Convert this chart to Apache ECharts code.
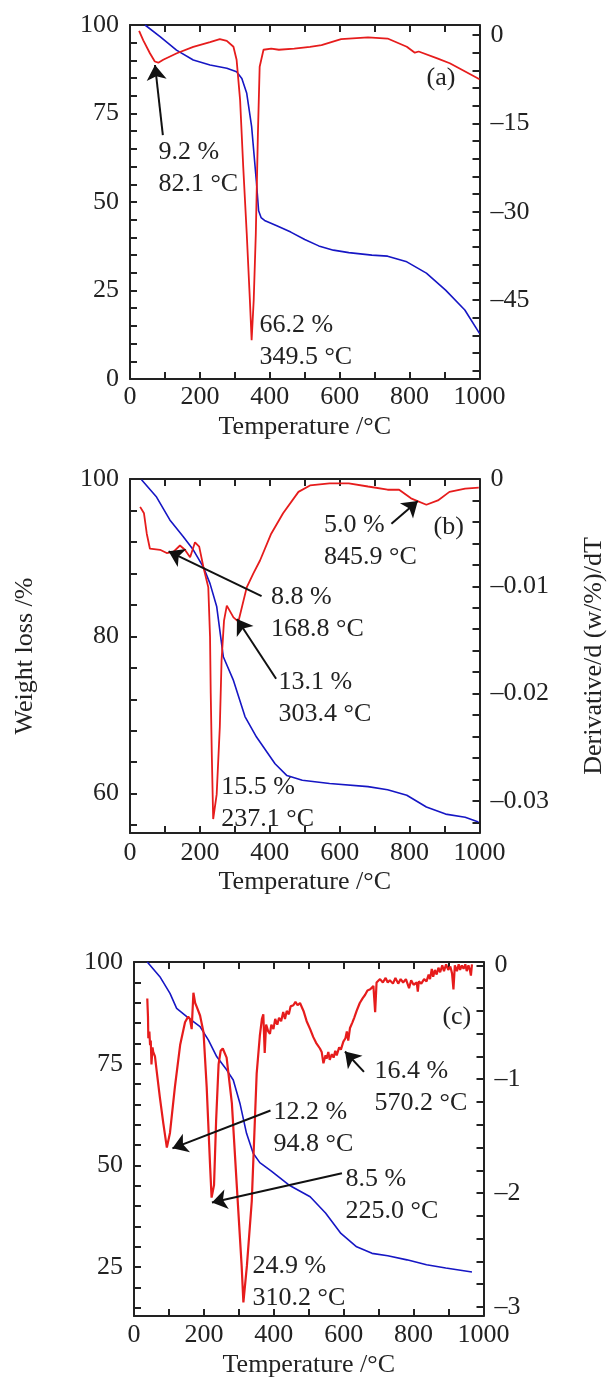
<!DOCTYPE html>
<html>
<head>
<meta charset="utf-8">
<script src="https://cdn.jsdelivr.net/npm/echarts@6/dist/echarts.min.js"></script>
<style>
  html, body { margin: 0; padding: 0; background: #fff; }
  #chart { width: 608px; height: 1378px; }
</style>
</head>
<body>
<div id="chart"></div>
<script>
// ---- tick labels ----
const xTicks = [0, 100, 200, 300, 400, 500, 600, 700, 800, 900, 1000];
const xLabels = [0, 200, 400, 600, 800, 1000];

const aLeftTicks = [0, 5, 10, 15, 20, 25, 30, 35, 40, 45, 50, 55, 60, 65, 70, 75, 80, 85, 90, 95, 100];
const aLeftLabels = [0, 25, 50, 75, 100];
const aRightTicks = [0, -3, -6, -9, -12, -15, -18, -21, -24, -27, -30, -33, -36, -39, -42, -45, -48, -51, -54, -57];
const aRightLabels = [0, -15, -30, -45];

const bLeftTicks = [56, 60, 64, 68, 72, 76, 80, 84, 88, 92, 96, 100];
const bLeftLabels = [60, 80, 100];
const bRightTicks = [0, -0.002, -0.004, -0.006, -0.008, -0.01, -0.012, -0.014, -0.016, -0.018, -0.02,
  -0.022, -0.024, -0.026, -0.028, -0.03, -0.032];
const bRightLabels = [0, -0.01, -0.02, -0.03];

const cLeftTicks = [15, 20, 25, 30, 35, 40, 45, 50, 55, 60, 65, 70, 75, 80, 85, 90, 95, 100];
const cLeftLabels = [25, 50, 75, 100];
const cRightTicks = [0, -0.2, -0.4, -0.6, -0.8, -1, -1.2, -1.4, -1.6, -1.8, -2, -2.2, -2.4, -2.6, -2.8, -3];
const cRightLabels = [0, -1, -2, -3];

// ---- (a) weight loss %, [temperature, value] ----
const aWeight = [[43, 100], [86, 96.7], [133, 92.9], [181, 90.1], [229, 88.7], [277, 87.8], [305, 86.8],
  [320, 84.9], [334, 80.7], [348, 71.3], [362, 55.3], [368, 47.5], [375, 45.6], [385, 44.8], [420, 43.3],
  [460, 41.5], [500, 39.4], [540, 37.6], [582, 36.4], [626, 35.7], [692, 35.0], [737, 34.7], [792, 33.1],
  [848, 29.9], [903, 25.1], [958, 19.5], [1000, 12.9]];
// ---- (a) derivative ----
const aDeriv = [[26, 0.7], [38, -0.9], [57, -3.1], [71, -4.5], [81, -4.7], [95, -4.2], [134, -3.1],
  [181, -2.0], [229, -1.2], [257, -0.7], [277, -1.0], [296, -2.0], [305, -4.2], [315, -11], [324, -22.4],
  [334, -33.7], [343, -45], [348, -51.8], [354, -45], [360, -33.7], [366, -16.7], [371, -5.4], [382, -2.5],
  [404, -2.3], [426, -2.5], [470, -2.3], [515, -2.0], [548, -1.7], [604, -0.7], [681, -0.4], [737, -0.6],
  [792, -2.0], [815, -3.0], [826, -2.8], [881, -4.0], [915, -4.8], [959, -6.2], [1000, -7.5]];

// ---- (b) ----
const bWeight = [[33, 99.9], [76, 97.7], [114, 94.8], [152, 92.7], [181, 91.0], [210, 88.8], [229, 86.7],
  [248, 83.8], [267, 77.4], [296, 74.4], [329, 69.8], [362, 67.2], [415, 63.8], [449, 62.3], [493, 61.7],
  [571, 61.3], [681, 60.9], [737, 60.5], [792, 59.8], [848, 58.3], [903, 57.4], [959, 57.0], [997, 56.4]];
const bDeriv = [[29, -0.0026], [40, -0.0032], [48, -0.0051], [57, -0.0065], [86, -0.0066], [105, -0.0069],
  [124, -0.0068], [143, -0.0062], [157, -0.0066], [172, -0.0073], [186, -0.0059], [198, -0.0063],
  [210, -0.0082], [224, -0.0101], [229, -0.0147], [231, -0.020], [234, -0.0256], [238, -0.0317],
  [248, -0.0294], [257, -0.0231], [262, -0.0169], [269, -0.0132], [277, -0.0118], [296, -0.0129],
  [310, -0.0133], [334, -0.0101], [353, -0.0088], [372, -0.0076], [404, -0.0051], [438, -0.0032],
  [482, -0.0012], [515, -0.0006], [571, -0.0004], [626, -0.0004], [681, -0.0007], [737, -0.001],
  [770, -0.001], [804, -0.0018], [848, -0.0024], [881, -0.002], [914, -0.0012], [959, -0.0009], [998, -0.0008]];

// ---- (c) ----
const cWeight = [[38, 100], [74, 96.4], [103, 92.3], [122, 88.6], [151, 86.6], [189, 84.1], [213, 80.8],
  [237, 76.7], [265, 73.5], [284, 71.0], [303, 65.3], [322, 57.9], [341, 53.0], [360, 50.7], [393, 48.6],
  [443, 45.2], [504, 42.3], [548, 38.3], [592, 33.3], [637, 30.0], [681, 28.4], [726, 27.8], [781, 26.8],
  [837, 25.6], [892, 24.8], [967, 23.8]];
const cDeriv = [[38, -0.29], [40, -0.45], [41, -0.64], [44, -0.58], [46, -0.70], [48, -0.66], [50, -0.87],
  [53, -0.72], [55, -0.76], [60, -0.80], [65, -0.93], [74, -1.16], [84, -1.39], [94, -1.60], [103, -1.47],
  [117, -1.07], [132, -0.70], [146, -0.50], [155, -0.45], [160, -0.47], [165, -0.56], [170, -0.24],
  [175, -0.33], [179, -0.36], [189, -0.44], [199, -0.59], [208, -1.07], [218, -1.78], [222, -2.04],
  [229, -1.93], [235, -1.36], [242, -0.87], [248, -0.75], [254, -0.73], [265, -0.81], [280, -1.21],
  [294, -1.93], [308, -2.64], [313, -2.96], [323, -2.64], [337, -2.07], [351, -0.95], [360, -0.62],
  [366, -0.47], [370, -0.43], [374, -0.77], [378, -0.52], [384, -0.58], [389, -0.60], [393, -0.52],
  [399, -0.56], [404, -0.47], [410, -0.52], [415, -0.46], [421, -0.49], [427, -0.41], [432, -0.47],
  [437, -0.40], [443, -0.43], [448, -0.36], [456, -0.35], [462, -0.32], [468, -0.35], [475, -0.33],
  [485, -0.40], [494, -0.49], [504, -0.56], [513, -0.63], [521, -0.68], [532, -0.73], [537, -0.76],
  [542, -0.86], [548, -0.79], [551, -0.82], [556, -0.76], [560, -0.83], [566, -0.78], [571, -0.81],
  [576, -0.75], [580, -0.79], [587, -0.72], [592, -0.74], [599, -0.67], [605, -0.64], [609, -0.58],
  [613, -0.66], [618, -0.55], [625, -0.50], [630, -0.46], [637, -0.40], [646, -0.33], [654, -0.29],
  [661, -0.26], [668, -0.22], [676, -0.21], [685, -0.18], [690, -0.41], [694, -0.15], [704, -0.12],
  [712, -0.15], [720, -0.11], [726, -0.15], [732, -0.13], [741, -0.16], [748, -0.11], [756, -0.16],
  [763, -0.12], [770, -0.15], [778, -0.12], [787, -0.20], [793, -0.13], [800, -0.17], [809, -0.15],
  [812, -0.23], [815, -0.14], [822, -0.16], [830, -0.12], [837, -0.14], [843, -0.08], [847, -0.12],
  [852, -0.03], [856, -0.10], [861, -0.04], [866, -0.08], [871, -0.02], [876, -0.06], [882, 0.0],
  [887, -0.05], [893, 0.01], [899, -0.04], [905, -0.01], [910, -0.07], [914, -0.21], [918, 0.0],
  [924, -0.05], [929, 0.01], [933, -0.04], [938, 0.0], [943, -0.03], [948, 0.01], [952, -0.05],
  [957, 0.0], [961, -0.04], [964, -0.09], [967, 0.01]];

// ---- annotations: text, anchor [temperature, weight %] ----
const aNotes = [['9.2 %\n82.1 °C', [80, 59.5]], ['66.2 %\n349.5 °C', [369, 10.6]], ['(a)', [847, 85]]];
const aArrows = [[[94, 68.9], [71.5, 88.7]]];
const bNotes = [['5.0 %\n845.9 °C', [554, 92.1]], ['(b)', [867, 93.9]], ['8.8 %\n168.8 °C', [402, 83.0]],
  ['13.1 %\n303.4 °C', [423.5, 72.15]], ['15.5 %\n237.1 °C', [260, 58.8]]];
const bArrows = [[[748, 94.3], [823.5, 97.2]], [[376.5, 85.1], [110.4, 90.8]], [[418, 74.6], [306, 82.2]]];
const cNotes = [['(c)', [881, 86.5]], ['16.4 %\n570.2 °C', [686.7, 69.2]], ['12.2 %\n94.8 °C', [397.7, 59.2]],
  ['8.5 %\n225.0 °C', [603.7, 42.8]], ['24.9 %\n310.2 °C', [337.6, 21.3]]];
const cArrows = [[[658, 73.0], [603.7, 78.0]], [[390.6, 63.5], [110, 54.2]], [[595, 48.1], [223, 40.9]]];

const FONT = '"Liberation Serif", "DejaVu Serif", serif';
const INK = '#222';
const BLUE = '#1616c4';
const RED = '#e61c1c';
const FS = 26;

const chart = echarts.init(document.getElementById('chart'), null, { renderer: 'canvas' });

const fmt = v => (v < 0 ? '\u2013' + String(-v) : String(v));
const lineCol = { color: INK, width: 2 };

const panels = [
  { grid: { left: 130, right: 128.5, top: 25, height: 354 }, lm: 5, gap: 35,
    left: [0, 100, aLeftTicks, aLeftLabels], right: [-58.4, 1.7, aRightTicks, aRightLabels],
    w: aWeight, d: aDeriv, dw: 1.8, notes: aNotes, arrows: aArrows },
  { grid: { left: 130, right: 128.5, top: 479, height: 354 }, lm: 7, gap: 36,
    left: [55, 100, bLeftTicks, bLeftLabels], right: [-0.033, 0, bRightTicks, bRightLabels],
    w: bWeight, d: bDeriv, dw: 1.8, notes: bNotes, arrows: bArrows,
    leftName: 'Weight loss /%', rightName: 'Derivative/d (w/%)/dT' },
  { grid: { left: 134, right: 124.5, top: 962, height: 354 }, lm: 6, gap: 36,
    left: [13, 100, cLeftTicks, cLeftLabels], right: [-3.08, 0.03, cRightTicks, cRightLabels],
    w: cWeight, d: cDeriv, dw: 2.2, notes: cNotes, arrows: cArrows }
];

const grid = [], xAxis = [], yAxis = [], series = [];
const txt = { fontFamily: FONT, fontSize: FS, color: INK };

panels.forEach((p, i) => {
  grid.push(Object.assign({ outerBoundsMode: 'none' }, p.grid));
  const xBase = {
    gridIndex: i, type: 'value', min: 0, max: 1000,
    axisLine: { show: true, onZero: false, lineStyle: lineCol },
    axisTick: { show: true, inside: true, length: 7, customValues: xTicks, lineStyle: lineCol },
    splitLine: { show: false }
  };
  xAxis.push(Object.assign({}, xBase, {
    position: 'bottom',
    axisLabel: Object.assign({ customValues: xLabels, margin: p.lm, formatter: v => String(v) }, txt),
    name: 'Temperature /°C', nameLocation: 'middle', nameGap: p.gap, nameTextStyle: txt
  }));
  xAxis.push(Object.assign({}, xBase, { position: 'top', axisLabel: { show: false } }));

  const yBase = (r, pos) => ({
    gridIndex: i, type: 'value', position: pos, min: r[0], max: r[1],
    axisLine: { show: true, onZero: false, lineStyle: lineCol },
    axisTick: { show: true, inside: true, length: 7, customValues: r[2], lineStyle: lineCol },
    axisLabel: Object.assign({ customValues: r[3], margin: 11, formatter: fmt }, txt),
    splitLine: { show: false }
  });
  const yl = yBase(p.left, 'left');
  const yr = yBase(p.right, 'right');
  if (p.leftName) Object.assign(yl, { name: p.leftName, nameLocation: 'middle', nameGap: 92, nameTextStyle: txt });
  if (p.rightName) Object.assign(yr, { name: p.rightName, nameLocation: 'middle', nameGap: 102, nameTextStyle: txt });
  yAxis.push(yl, yr);

  series.push({
    type: 'line', xAxisIndex: 2 * i, yAxisIndex: 2 * i, data: p.w,
    showSymbol: false, silent: true, z: 2,
    lineStyle: { color: BLUE, width: 1.6 }, itemStyle: { color: BLUE },
    markPoint: {
      silent: true, symbol: 'circle', symbolSize: 1,
      itemStyle: { color: 'rgba(0,0,0,0)' },
      label: Object.assign({ show: true, position: 'right', distance: 0, align: 'left', lineHeight: 32, formatter: '{b}' }, txt),
      data: p.notes.map(n => ({ name: n[0], coord: n[1] }))
    },
    markLine: {
      silent: true, symbol: ['none', 'arrow'], symbolSize: 15,
      lineStyle: { color: '#111', width: 2, type: 'solid' },
      label: { show: false },
      data: p.arrows.map(a => [{ coord: a[0] }, { coord: a[1] }])
    }
  });
  series.push({
    type: 'line', xAxisIndex: 2 * i, yAxisIndex: 2 * i + 1, data: p.d,
    showSymbol: false, silent: true, z: 3,
    lineStyle: { color: RED, width: p.dw }, itemStyle: { color: RED }
  });
});

chart.setOption({ animation: false, grid, xAxis, yAxis, series });
</script>
</body>
</html>
